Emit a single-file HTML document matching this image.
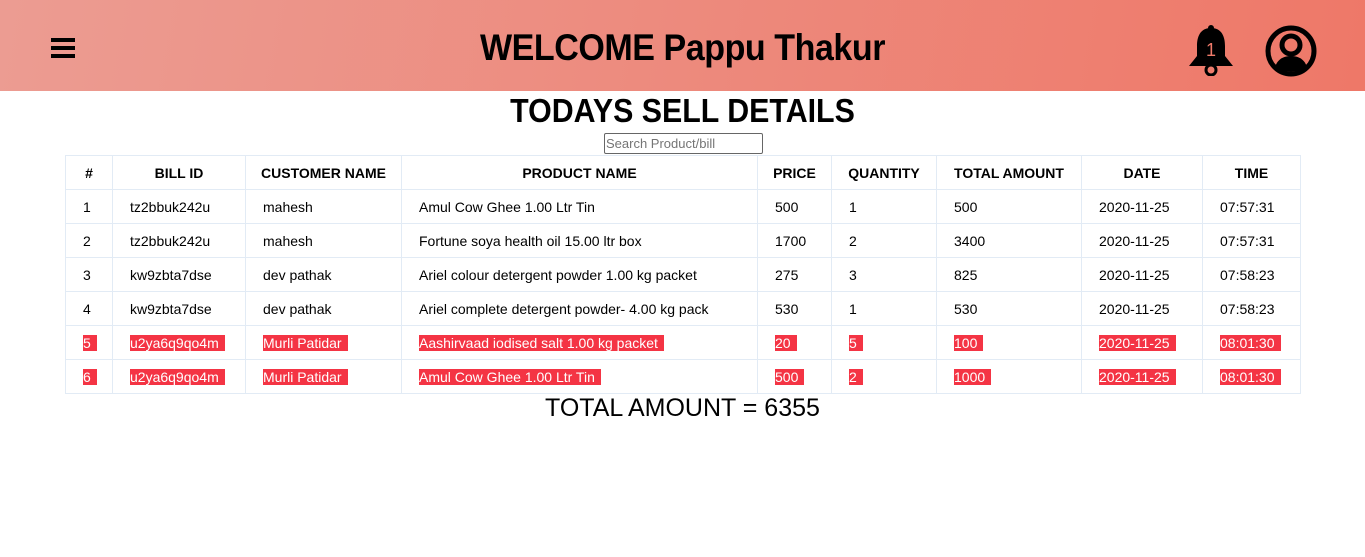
<!DOCTYPE html>
<html><head><meta charset="utf-8"><style>
*{margin:0;padding:0;box-sizing:border-box}
body{width:1365px;height:557px;background:#fff;font-family:"Liberation Sans",sans-serif;color:#000;position:relative;overflow:hidden}
.hdr{position:absolute;left:0;top:0;width:1365px;height:91px;background:linear-gradient(100deg,#ec9c92,#ee7868)}
.title{position:absolute;left:0;width:1365px;top:27px;text-align:center;font-size:37px;font-weight:bold;letter-spacing:-0.5px;transform:scaleX(0.92)}
.menu{position:absolute;left:51px;top:38px;width:24px}
.menu i{display:block;height:4px;background:#000;margin-bottom:4px}
h2{position:absolute;top:92px;left:0;width:1365px;text-align:center;font-size:33px;font-weight:bold;transform:scaleX(0.92)}
input{position:absolute;left:604px;top:133px;width:159px;height:21px;border:1px solid #666;border-radius:2px;font-size:13px;padding-left:1px;font-family:"Liberation Sans",sans-serif;color:#777}
table{position:absolute;left:65px;top:155px;border-collapse:collapse;font-size:14px}
td,th{border:1px solid #e2ebf5;height:34px;padding:0 0 0 17px;text-align:left;white-space:nowrap}
th{font-weight:bold;text-align:center;padding:0;font-size:14px}
.r span{background:#f43444;color:#fff;padding:0 6px 0 0}
.tot{position:absolute;top:394px;left:0;width:1365px;text-align:center;font-size:25px}
</style></head><body>
<div class="hdr">
<div class="menu"><i></i><i></i><i></i></div>
<div class="title">WELCOME Pappu Thakur</div>
<svg style="position:absolute;left:1187px;top:24px" width="48" height="52" viewBox="0 0 48 52"><circle cx="24" cy="4" r="3"/><path d="M24 4C13 4 10 13 10 22V32L2 42H46L38 32V22C38 13 35 4 24 4Z"/><circle cx="24" cy="46" r="5" fill="none" stroke="#000" stroke-width="3"/><text x="24" y="32" text-anchor="middle" font-size="18" fill="#f07a6a" font-family="Liberation Sans">1</text></svg>
<svg style="position:absolute;left:1265px;top:25px" width="52" height="52" viewBox="0 0 52 52"><circle cx="26" cy="26" r="23" fill="none" stroke="#000" stroke-width="5"/><circle cx="26" cy="20" r="9" fill="none" stroke="#000" stroke-width="5"/><path d="M10 42C13 33 20 31 26 31C32 31 39 33 42 42C37 48 15 48 10 42Z"/></svg>
</div>
<h2>TODAYS SELL DETAILS</h2>
<input placeholder="Search Product/bill">
<table>
<tr><th style="width:47px">#</th><th style="width:133px">BILL ID</th><th style="width:156px">CUSTOMER NAME</th><th style="width:356px">PRODUCT NAME</th><th style="width:74px">PRICE</th><th style="width:105px">QUANTITY</th><th style="width:145px">TOTAL AMOUNT</th><th style="width:121px">DATE</th><th style="width:98px">TIME</th></tr>
<tr><td>1</td><td>tz2bbuk242u</td><td>mahesh</td><td>Amul Cow Ghee 1.00 Ltr Tin</td><td>500</td><td>1</td><td>500</td><td>2020-11-25</td><td>07:57:31</td></tr>
<tr><td>2</td><td>tz2bbuk242u</td><td>mahesh</td><td>Fortune soya health oil 15.00 ltr box</td><td>1700</td><td>2</td><td>3400</td><td>2020-11-25</td><td>07:57:31</td></tr>
<tr><td>3</td><td>kw9zbta7dse</td><td>dev pathak</td><td>Ariel colour detergent powder 1.00 kg packet</td><td>275</td><td>3</td><td>825</td><td>2020-11-25</td><td>07:58:23</td></tr>
<tr><td>4</td><td>kw9zbta7dse</td><td>dev pathak</td><td>Ariel complete detergent powder- 4.00 kg pack</td><td>530</td><td>1</td><td>530</td><td>2020-11-25</td><td>07:58:23</td></tr>
<tr class="r"><td><span>5</span></td><td><span>u2ya6q9qo4m</span></td><td><span>Murli Patidar</span></td><td><span>Aashirvaad iodised salt 1.00 kg packet</span></td><td><span>20</span></td><td><span>5</span></td><td><span>100</span></td><td><span>2020-11-25</span></td><td><span>08:01:30</span></td></tr>
<tr class="r"><td><span>6</span></td><td><span>u2ya6q9qo4m</span></td><td><span>Murli Patidar</span></td><td><span>Amul Cow Ghee 1.00 Ltr Tin</span></td><td><span>500</span></td><td><span>2</span></td><td><span>1000</span></td><td><span>2020-11-25</span></td><td><span>08:01:30</span></td></tr>
</table>
<div class="tot">TOTAL AMOUNT = 6355</div>
</body></html>
